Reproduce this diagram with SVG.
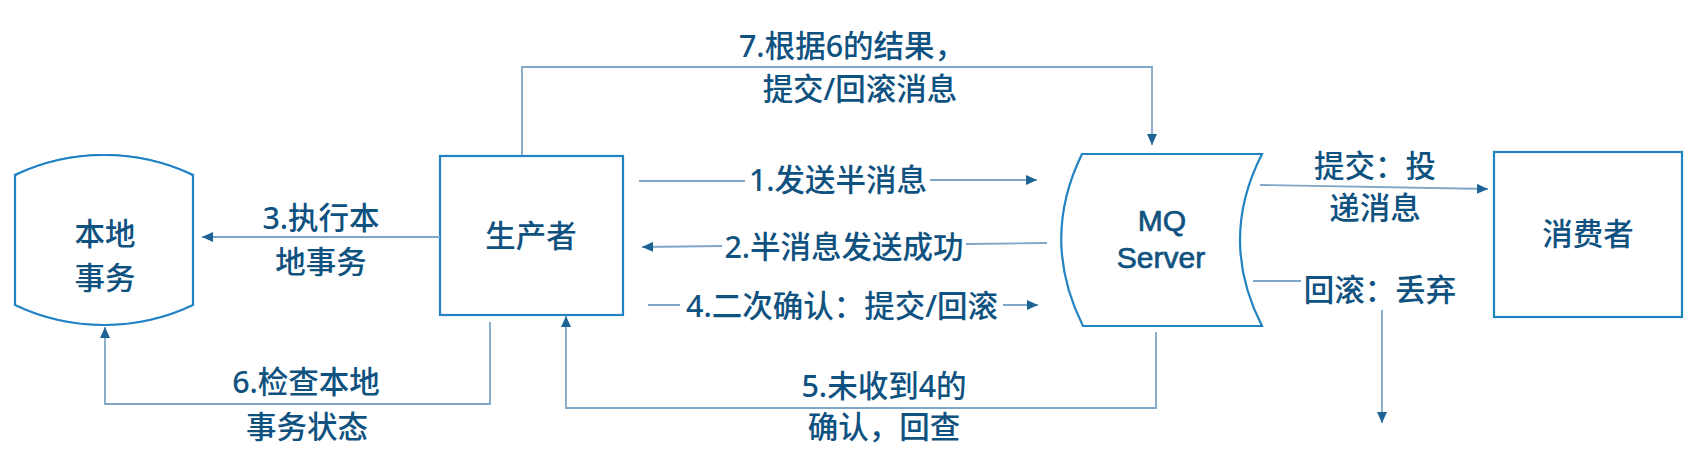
<svg xmlns="http://www.w3.org/2000/svg" width="1693" height="467" viewBox="0 0 1693 467">
<style>
.node{fill:#fff;stroke:#2283c3;stroke-width:2.2}
.t{font-family:"Noto Sans","Noto Sans CJK SC",sans-serif;font-size:30.5px;font-weight:500;fill:#10527f;text-anchor:middle;dominant-baseline:central}
.lat{font-family:"Liberation Sans",Arial,sans-serif;font-size:30px;font-weight:400;stroke:#10527f;stroke-width:0.7}
.c{fill:none;stroke:#7fa6c6;stroke-width:1.8}
</style>
<defs>
<marker id="ah" markerUnits="userSpaceOnUse" markerWidth="12" markerHeight="10" refX="11" refY="5" orient="auto">
<path d="M0,0 L11,5 L0,10 Z" fill="#1d6396"/>
</marker>
</defs>
<rect width="1693" height="467" fill="#fff"/>

<g id="local-tx">
<path class="node" d="M15,175 V305 A208,208 0 0 0 193,305 V175 A208,208 0 0 0 15,175 Z"/>
<path class="node" d="M15,175 A208,208 0 0 1 193,175"/>
<text class="t" x="105" y="233">本地</text>
<text class="t" x="105" y="277">事务</text>
</g>

<g id="producer">
<rect class="node" x="440" y="156" width="183" height="159"/>
<text class="t" x="531" y="235">生产者</text>
</g>

<g id="mq-server">
<path class="node" d="M1082,154 H1262 Q1218,240 1262,326 H1083 Q1040,240 1082,154 Z"/>
<text class="t lat" x="1162" y="220">MQ</text>
<text class="t lat" x="1161" y="257">Server</text>
</g>

<g id="consumer">
<rect class="node" x="1494" y="152" width="188" height="165"/>
<text class="t" x="1588" y="233">消费者</text>
</g>

<g id="connectors">
<path class="c" d="M522,155 V67 H1152 V145" marker-end="url(#ah)"/>
<path class="c" d="M639,181 H745 M930,180 H1037" marker-end="url(#ah)"/>
<path class="c" d="M1047,243 L966,244 M722,246 L642,247" marker-end="url(#ah)"/>
<path class="c" d="M648,305 H680 M1003,305 H1038" marker-end="url(#ah)"/>
<path class="c" d="M440,237 H202" marker-end="url(#ah)"/>
<path class="c" d="M490,322 V404 H105 V327" marker-end="url(#ah)"/>
<path class="c" d="M1156,332 V408 H566 V316" marker-end="url(#ah)"/>
<path class="c" d="M1260,185 L1488,189" marker-end="url(#ah)"/>
<path class="c" d="M1253,281 H1301"/>
<path class="c" d="M1382,310 V423" marker-end="url(#ah)"/>
</g>

<g id="labels">
<text class="t" x="852" y="45">7.根据6的结果，</text>
<text class="t" x="860" y="88">提交/回滚消息</text>
<text class="t" x="838" y="179">1.发送半消息</text>
<text class="t" x="844" y="246">2.半消息发送成功</text>
<text class="t" x="842" y="305">4.二次确认：提交/回滚</text>
<text class="t" x="321" y="217">3.执行本</text>
<text class="t" x="321" y="261">地事务</text>
<text class="t" x="306" y="381">6.检查本地</text>
<text class="t" x="307" y="426">事务状态</text>
<text class="t" x="884" y="385">5.未收到4的</text>
<text class="t" x="884" y="426">确认，回查</text>
<text class="t" x="1375" y="165">提交：投</text>
<text class="t" x="1375" y="207">递消息</text>
<text class="t" x="1380" y="289">回滚：丢弃</text>
</g>
</svg>
